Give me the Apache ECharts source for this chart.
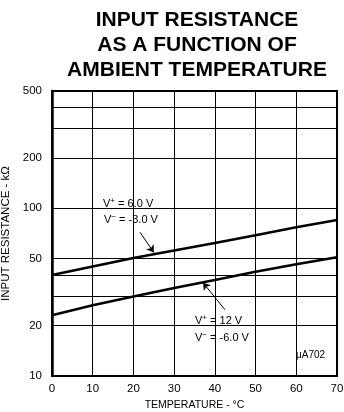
<!DOCTYPE html>
<html>
<head>
<meta charset="utf-8">
<script src="https://cdn.jsdelivr.net/npm/echarts@6/dist/echarts.min.js"></script>
<style>
  html, body { margin: 0; padding: 0; background: #fff; }
  #chart { width: 344px; height: 412px; }
</style>
</head>
<body>
<div id="chart"></div>
<script>
// temperatures (°C) and input resistance (kΩ)
const temps = [0, 10, 20, 30, 40, 50, 60, 70];
const rinHigh = [40, 45, 50.5, 56, 62, 69, 77, 85];        // V+ = 6.0 V, V- = -3.0 V
const rinLow = [23, 26.4, 29.8, 33.5, 37.4, 41.8, 46.3, 51]; // V+ = 12 V, V- = -6.0 V

const yGridValues = [10, 20, 30, 40, 50, 100, 200, 300, 400, 500];
const yLabelValues = [10, 20, 50, 100, 200, 500];

// arrow from label to curve: [temp, kΩ]
const arrowHigh = [[21.6, 72], [25, 54.5]];
const arrowLow = [[42.5, 24.8], [37.1, 36]];

const chart = echarts.init(document.getElementById('chart'));

const toPairs = (ys) => temps.map((t, i) => [t, ys[i]]);
const arrowLine = (a) => [{ coord: a[0] }, { coord: a[1] }];

const labelFont = '"Liberation Sans Narrow", "Liberation Sans", sans-serif';
const textFont = '"Liberation Sans", Arial, sans-serif';

const vRich = {
  v: { fontSize: 11, fontFamily: textFont, color: '#000' },
  s: { fontSize: 8, fontFamily: textFont, color: '#000', verticalAlign: 'top', padding: [0, 0, 6, 0] }
};

chart.setOption({
  animation: false,
  backgroundColor: '#fff',
  grid: {
    left: 52, right: 7, top: 91, bottom: 36,
    outerBoundsMode: 'none',
    containLabel: false,
    show: true, borderColor: '#000', borderWidth: 2
  },
  xAxis: {
    type: 'value',
    min: 0, max: 70, interval: 10,
    name: 'TEMPERATURE - °C',
    nameLocation: 'middle',
    nameGap: 24,
    nameTextStyle: { fontFamily: textFont, fontSize: 10.5, color: '#000' },
    axisLine: { show: true, lineStyle: { color: '#000', width: 2 } },
    axisTick: { show: false },
    axisLabel: { fontFamily: labelFont, fontSize: 11.5, color: '#000', margin: 7 },
    splitLine: { show: true, lineStyle: { color: '#000', width: 1 } }
  },
  yAxis: {
    type: 'log',
    logBase: 10,
    min: 10, max: 500,
    name: 'INPUT RESISTANCE - kΩ',
    nameLocation: 'middle',
    nameRotate: 90,
    nameGap: 35,
    nameTextStyle: { fontFamily: textFont, fontSize: 11.5, color: '#000' },
    axisLine: { show: true, lineStyle: { color: '#000', width: 2.5 } },
    axisTick: { show: false, customValues: yGridValues },
    axisLabel: { fontFamily: labelFont, fontSize: 11.5, color: '#000', margin: 10, customValues: yLabelValues },
    splitLine: { show: true, lineStyle: { color: '#000', width: 1 } }
  },
  series: [
    {
      type: 'line',
      data: toPairs(rinHigh),
      showSymbol: false,
      lineStyle: { color: '#000', width: 2.5 },
      markLine: {
        silent: true,
        symbol: ['none', 'arrow'],
        symbolSize: 7,
        label: { show: false },
        lineStyle: { color: '#000', width: 1, type: 'solid' },
        data: [arrowLine(arrowHigh)]
      }
    },
    {
      type: 'line',
      data: toPairs(rinLow),
      showSymbol: false,
      lineStyle: { color: '#000', width: 2.5 },
      markLine: {
        silent: true,
        symbol: ['none', 'arrow'],
        symbolSize: 7,
        label: { show: false },
        lineStyle: { color: '#000', width: 1, type: 'solid' },
        data: [arrowLine(arrowLow)]
      }
    }
  ],
  graphic: [
    { type: 'text', x: 197, y: 8, style: {
        text: 'INPUT RESISTANCE\nAS A FUNCTION OF\nAMBIENT TEMPERATURE',
        fontFamily: textFont, fontWeight: 'bold', fontSize: 21, lineHeight: 25,
        align: 'center', verticalAlign: 'top', fill: '#000' } },
    { type: 'text', x: 103, y: 204, style: {
        text: '{v|V}{s|+}{v| = 6.0 V}', rich: vRich, verticalAlign: 'middle', fill: '#000' } },
    { type: 'text', x: 104, y: 220, style: {
        text: '{v|V}{s|−}{v| = -3.0 V}', rich: vRich, verticalAlign: 'middle', fill: '#000' } },
    { type: 'text', x: 195, y: 321, style: {
        text: '{v|V}{s|+}{v| = 12 V}', rich: vRich, verticalAlign: 'middle', fill: '#000' } },
    { type: 'text', x: 195, y: 338, style: {
        text: '{v|V}{s|−}{v| = -6.0 V}', rich: vRich, verticalAlign: 'middle', fill: '#000' } },
    { type: 'text', x: 296, y: 355, style: {
        text: 'μA702', fontFamily: textFont, fontSize: 10, verticalAlign: 'middle', fill: '#000' } }
  ]
});

window.addEventListener('resize', () => chart.resize());
</script>
</body>
</html>
